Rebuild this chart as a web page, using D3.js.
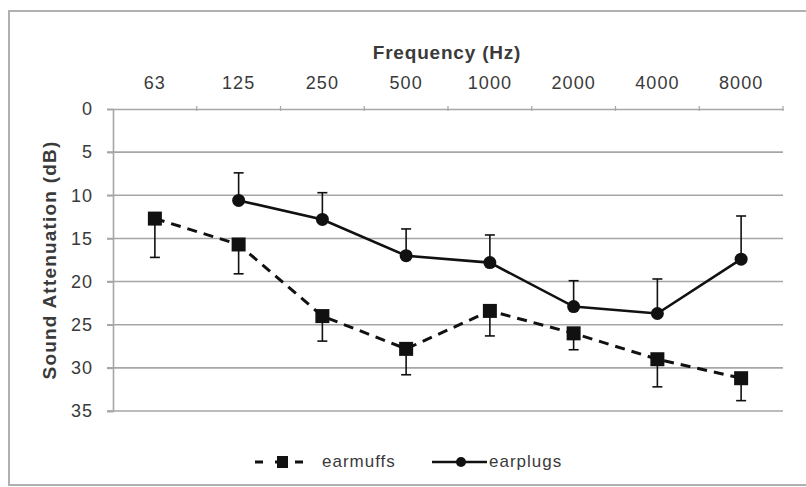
<!DOCTYPE html>
<html><head><meta charset="utf-8">
<script src="https://cdn.jsdelivr.net/npm/d3@7"></script>
<style>body{margin:0;background:#fff;} svg{display:block;font-family:"Liberation Sans",Arial,sans-serif;}</style>
</head><body>
<svg id="c" width="806" height="487"></svg>
<script>
const categories = ["63","125","250","500","1000","2000","4000","8000"];
const earmuffs = [12.7, 15.7, 24.0, 27.8, 23.4, 26.0, 29.0, 31.2];
const earmuffsErr = [4.5, 3.4, 2.9, 3.0, 2.9, 1.9, 3.2, 2.6];
const earplugs = [null, 10.6, 12.8, 17.0, 17.8, 22.9, 23.7, 17.4];
const earplugsErr = [null, 3.2, 3.1, 3.1, 3.2, 3.0, 4.0, 5.0];
const yTicks = [0,5,10,15,20,25,30,35];

const svg = d3.select("#c");
const L = 113, R = 783, T = 109, B = 411;
const x = d3.scaleBand().domain(categories).range([L, R]);
const y = d3.scaleLinear().domain([0, 35]).range([T, B]);
const txt = "#3a3a3a", grid = "#a6a6a6";

// frame
svg.append("rect").attr("x",9).attr("y",11).attr("width",800).attr("height",474)
  .attr("fill","none").attr("stroke","#b0b0b0").attr("stroke-width",2);

// gridlines
svg.append("g").selectAll("line").data(yTicks.slice(1)).join("line")
  .attr("x1", L-6).attr("x2", R).attr("y1", d=>y(d)).attr("y2", d=>y(d))
  .attr("stroke", grid).attr("stroke-width", 1.6);

// y axis
const ya = svg.append("g").attr("transform",`translate(${L},0)`)
  .call(d3.axisLeft(y).tickValues(yTicks).tickSize(6).tickPadding(14));
ya.select(".domain").attr("stroke", grid).attr("stroke-width",1.6);
ya.selectAll(".tick line").attr("stroke", grid).attr("stroke-width",1.6);
ya.selectAll("text").attr("fill", txt).style("font-size","18px").style("letter-spacing","1px");

// top x axis
const xa = svg.append("g").attr("transform",`translate(0,${T})`)
  .call(d3.axisTop(x).tickSize(0).tickPadding(20));
xa.select(".domain").attr("stroke", grid).attr("stroke-width",1.6);
xa.selectAll("text").attr("fill", txt).style("font-size","18px").style("letter-spacing","1px");
// category separators on top axis
svg.append("g").selectAll("line").data(categories.slice(1).concat(["end"])).join("line")
  .attr("x1", (d,i)=> L + (i+1)*x.step()).attr("x2",(d,i)=> L + (i+1)*x.step())
  .attr("y1", T-3).attr("y2", T+2).attr("stroke", grid).attr("stroke-width",1.2);

// titles
svg.append("text").attr("x", 447).attr("y", 59).attr("text-anchor","middle")
  .attr("fill", txt).style("font-size","19px").style("font-weight","bold").style("letter-spacing","0.8px").text("Frequency (Hz)");
svg.append("text").attr("transform","translate(56,260) rotate(-90)").attr("text-anchor","middle")
  .attr("fill", txt).style("font-size","19px").style("font-weight","bold").style("letter-spacing","1.2px").text("Sound Attenuation (dB)");

const cx = d => x(d) + x.bandwidth()/2;

// error bars
const eb = svg.append("g").attr("stroke","#111").attr("stroke-width",1.6);
categories.forEach((c,i)=>{
  const v = earmuffs[i], e = earmuffsErr[i];
  eb.append("line").attr("x1",cx(c)).attr("x2",cx(c)).attr("y1",y(v)).attr("y2",y(v+e));
  eb.append("line").attr("x1",cx(c)-5).attr("x2",cx(c)+5).attr("y1",y(v+e)).attr("y2",y(v+e));
  if (earplugs[i] != null) {
    const p = earplugs[i], pe = earplugsErr[i];
    eb.append("line").attr("x1",cx(c)).attr("x2",cx(c)).attr("y1",y(p)).attr("y2",y(p-pe));
    eb.append("line").attr("x1",cx(c)-5).attr("x2",cx(c)+5).attr("y1",y(p-pe)).attr("y2",y(p-pe));
  }
});

// lines
const line = d3.line().defined(d=>d.v!=null).x(d=>cx(d.c)).y(d=>y(d.v));
const muffData = categories.map((c,i)=>({c, v: earmuffs[i]}));
const plugData = categories.map((c,i)=>({c, v: earplugs[i]}));
svg.append("path").datum(muffData).attr("d", line).attr("fill","none")
  .attr("stroke","#111").attr("stroke-width",3).attr("stroke-dasharray","10,7");
svg.append("path").datum(plugData).attr("d", line).attr("fill","none")
  .attr("stroke","#111").attr("stroke-width",2.6);

// markers
svg.append("g").selectAll("rect").data(muffData).join("rect")
  .attr("x", d=>cx(d.c)-7).attr("y", d=>y(d.v)-7).attr("width",14).attr("height",14).attr("fill","#111");
svg.append("g").selectAll("circle").data(plugData.filter(d=>d.v!=null)).join("circle")
  .attr("cx", d=>cx(d.c)).attr("cy", d=>y(d.v)).attr("r",6.5).attr("fill","#111");

// legend
const lg = svg.append("g");
lg.append("line").attr("x1",255).attr("x2",307).attr("y1",462).attr("y2",462)
  .attr("stroke","#111").attr("stroke-width",3).attr("stroke-dasharray","8,12");
lg.append("rect").attr("x",277).attr("y",456).attr("width",11).attr("height",12).attr("fill","#111");
lg.append("text").attr("x",322).attr("y",467).attr("fill",txt).style("font-size","17px").style("letter-spacing","1px").text("earmuffs");
lg.append("line").attr("x1",432).attr("x2",487).attr("y1",462).attr("y2",462)
  .attr("stroke","#111").attr("stroke-width",2.6);
lg.append("circle").attr("cx",461).attr("cy",462).attr("r",5).attr("fill","#111");
lg.append("text").attr("x",489).attr("y",467).attr("fill",txt).style("font-size","17px").style("letter-spacing","1px").text("earplugs");
</script>
</body></html>
